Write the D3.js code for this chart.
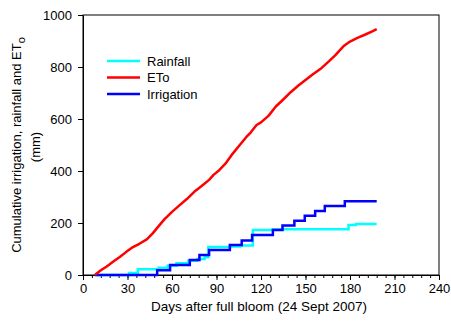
<!DOCTYPE html>
<html>
<head>
<meta charset="utf-8">
<script src="https://cdn.jsdelivr.net/npm/d3@7"></script>
<style>
  body { margin: 0; background: #fff; }
  svg { font-family: Arial, "Liberation Sans", sans-serif; }
</style>
</head>
<body>
<div id="chart"></div>
<script>
// cumulative ETo (mm) by day after full bloom
const etoDays = [8, 12, 16, 20, 25, 29, 33, 38, 43, 47, 51, 55, 60, 65, 70, 75, 80, 85, 88, 92, 96, 100, 105, 110, 113, 117, 120, 125, 130, 135, 140, 145, 150, 155, 160, 165, 170, 176, 180, 185, 190, 195, 198];
const etoValues = [0, 18, 33, 50, 70, 88, 105, 120, 137, 160, 188, 215, 243, 268, 292, 320, 342, 366, 385, 404, 428, 460, 495, 530, 548, 577, 587, 612, 648, 675, 703, 728, 750, 772, 792, 818, 845, 882, 898, 912, 924, 937, 946];

// cumulative rainfall (mm), step changes
const rainDays = [8, 31, 37, 51, 57, 63, 71, 77, 82, 84.5, 100, 106, 114.5, 128, 179, 184, 198];
const rainValues = [0, 8, 22, 28, 36, 45, 55, 62, 68, 108, 110, 113, 173, 176, 192, 196, 196];

// cumulative irrigation (mm), step changes
const irrDays = [8, 50, 58.7, 72, 78.5, 85, 99, 107, 114, 128, 134.5, 142.5, 149.5, 156.5, 163, 176.5, 198];
const irrValues = [0, 18, 38, 58, 77, 96, 115, 133, 154, 173, 190, 209, 228, 246, 265, 284, 284];

const xTicks = [0, 30, 60, 90, 120, 150, 180, 210, 240];
const yTicks = [0, 200, 400, 600, 800, 1000];

const legendNames = ["Rainfall", "ETo", "Irrigation"];
const legendColors = ["#00ffff", "#ff0000", "#0000ff"];

const W = 451, H = 325;
const margin = { top: 15, right: 12, bottom: 50, left: 83 };
const width = W - margin.left - margin.right;
const height = H - margin.top - margin.bottom;

const svg = d3.select("#chart").append("svg")
    .attr("width", W)
    .attr("height", H);

const g = svg.append("g")
    .attr("transform", `translate(${margin.left},${margin.top})`);

const x = d3.scaleLinear().domain([0, 240]).range([0, width]);
const y = d3.scaleLinear().domain([0, 1000]).range([height, 0]);

// frame
g.append("rect")
    .attr("width", width)
    .attr("height", height)
    .attr("fill", "none")
    .attr("stroke", "#000")
    .attr("stroke-width", 1);

// minor x ticks every 6 days
const xMinor = g.append("g")
    .attr("transform", `translate(0,${height})`)
    .call(d3.axisBottom(x).tickValues(d3.range(0, 241, 6)).tickSize(3).tickFormat(""));
xMinor.select(".domain").remove();

const xAxis = g.append("g")
    .attr("transform", `translate(0,${height})`)
    .call(d3.axisBottom(x).tickValues(xTicks).tickSize(5).tickPadding(4).tickSizeOuter(0).tickFormat(d3.format("d")));

const yAxis = g.append("g")
    .call(d3.axisLeft(y).tickValues(yTicks).tickSize(5).tickPadding(6).tickSizeOuter(0).tickFormat(d3.format("d")));

[xAxis, yAxis, xMinor].forEach(a => {
    a.selectAll("text").attr("font-size", 13).attr("fill", "#000").attr("font-family", "Arial, 'Liberation Sans', sans-serif");
    a.selectAll("line").attr("stroke", "#000");
    a.selectAll("path").attr("stroke", "#000");
});

const toPts = (days, vals) => days.map((d, i) => [d, vals[i]]);

const lineLin = d3.line().x(d => x(d[0])).y(d => y(d[1]));
const lineStep = d3.line().x(d => x(d[0])).y(d => y(d[1])).curve(d3.curveStepAfter);

g.append("path")
    .attr("d", lineStep(toPts(rainDays, rainValues)))
    .attr("fill", "none")
    .attr("stroke", legendColors[0])
    .attr("stroke-width", 2.5);

g.append("path")
    .attr("d", lineStep(toPts(irrDays, irrValues)))
    .attr("fill", "none")
    .attr("stroke", legendColors[2])
    .attr("stroke-width", 2.5);

g.append("path")
    .attr("d", lineLin(toPts(etoDays, etoValues)))
    .attr("fill", "none")
    .attr("stroke", legendColors[1])
    .attr("stroke-width", 2.5)
    .attr("stroke-linejoin", "round");

// legend
const legend = svg.append("g").attr("transform", "translate(107,61)");
legendNames.forEach((name, i) => {
    const row = legend.append("g").attr("transform", `translate(0,${i * 16.5})`);
    row.append("line")
        .attr("x1", 0).attr("x2", 33)
        .attr("stroke", legendColors[i])
        .attr("stroke-width", 2.5);
    row.append("text")
        .attr("x", 40)
        .attr("y", 4.5)
        .attr("font-size", 13)
        .text(name);
});

// axis titles
svg.append("text")
    .attr("x", margin.left + width / 2 - 2)
    .attr("y", 311)
    .attr("text-anchor", "middle")
    .attr("font-size", 13.5)
    .text("Days after full bloom (24 Sept 2007)");

const yTitle = svg.append("text")
    .attr("transform", "translate(21,145) rotate(-90)")
    .attr("text-anchor", "middle")
    .attr("font-size", 13);
yTitle.append("tspan").text("Cumulative irrigation, rainfall and ET");
yTitle.append("tspan").attr("dy", 4).attr("font-size", 11).text("o");

svg.append("text")
    .attr("transform", "translate(40,147) rotate(-90)")
    .attr("text-anchor", "middle")
    .attr("font-size", 13)
    .text("(mm)");
</script>
</body>
</html>
